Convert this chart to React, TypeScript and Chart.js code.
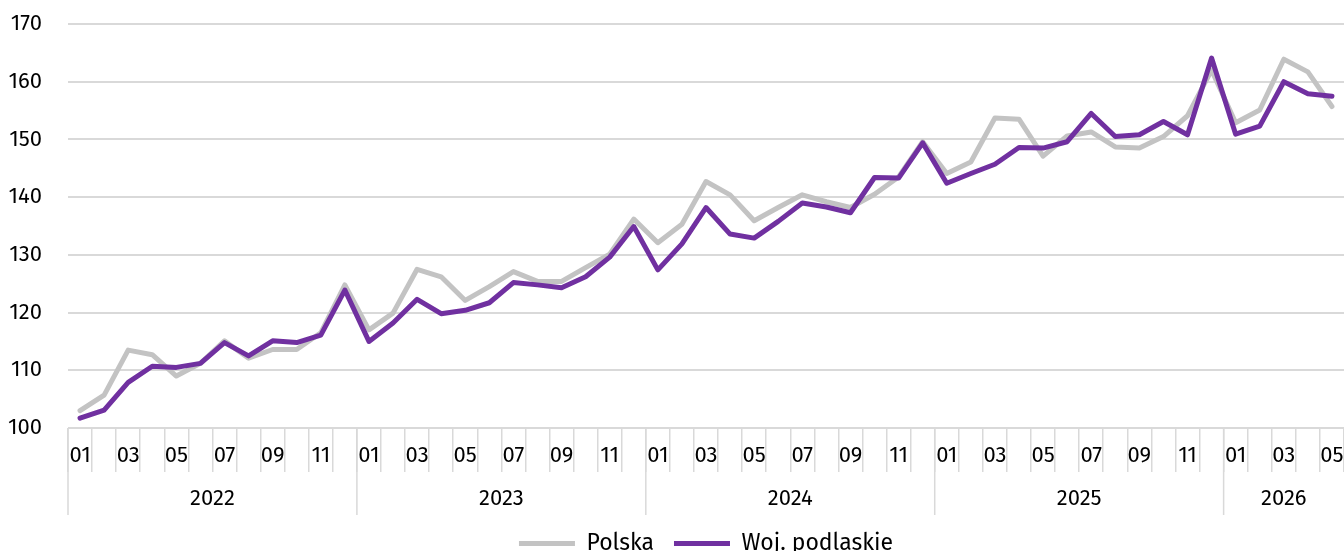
import React, { useEffect, useRef } from "react";
import { Chart, registerables } from "chart.js";

Chart.register(...registerables);

const months: string[] = [
  "01","02","03","04","05","06","07","08","09","10","11","12",
  "01","02","03","04","05","06","07","08","09","10","11","12",
  "01","02","03","04","05","06","07","08","09","10","11","12",
  "01","02","03","04","05","06","07","08","09","10","11","12",
  "01","02","03","04","05",
];
const years: string[] = ["2022", "2023", "2024", "2025", "2026"];

const polska: number[] = [
  103.0, 105.7, 113.5, 112.7, 109.0, 111.2, 115.1, 112.1, 113.6, 113.6, 116.5, 124.8,
  117.0, 119.9, 127.5, 126.2, 122.1, 124.5, 127.1, 125.4, 125.4, 127.8, 130.1, 136.2,
  132.1, 135.3, 142.7, 140.4, 135.9, 138.2, 140.4, 139.2, 138.2, 140.5, 143.5, 149.6,
  144.1, 146.1, 153.7, 153.5, 147.1, 150.6, 151.3, 148.7, 148.5, 150.5, 154.1, 162.0,
  152.9, 155.1, 163.9, 161.7, 155.7,
];
const podlaskie: number[] = [
  101.7, 103.1, 107.9, 110.7, 110.5, 111.2, 114.8, 112.5, 115.1, 114.8, 116.1, 123.9,
  115.0, 118.2, 122.3, 119.8, 120.4, 121.7, 125.2, 124.8, 124.3, 126.2, 129.6, 134.9,
  127.4, 131.9, 138.2, 133.6, 132.9, 135.8, 139.0, 138.3, 137.3, 143.4, 143.3, 149.4,
  142.4, 144.1, 145.7, 148.6, 148.5, 149.6, 154.5, 150.5, 150.8, 153.1, 150.8, 164.1,
  150.9, 152.3, 160.0, 157.9, 157.5,
];

const FONT = "'Fira Sans', Lato, 'Noto Sans', sans-serif";
const GRID = "#d9d9d9";

const yearPlugin = {
  id: "yearRow",
  afterDraw(chart: any) {
    const xs = chart.scales.x;
    const ctx = chart.ctx;
    const n = months.length;
    const step = (xs.getPixelForValue(n - 1) - xs.getPixelForValue(0)) / (n - 1);
    const starts: number[] = [];
    months.forEach((m, i) => { if (m === "01") starts.push(i); });
    ctx.save();
    ctx.strokeStyle = GRID;
    ctx.lineWidth = 1.5;
    const top = xs.top;
    starts.forEach((s, k) => {
      const left = xs.getPixelForValue(s) - step / 2;
      const endIdx = k + 1 < starts.length ? starts[k + 1] - 1 : n - 1;
      const right = xs.getPixelForValue(endIdx) + step / 2;
      ctx.beginPath();
      ctx.moveTo(left, top);
      ctx.lineTo(left, top + 87);
      ctx.stroke();
      ctx.fillStyle = "#000";
      ctx.font = `22px ${FONT}`;
      ctx.textAlign = "center";
      ctx.textBaseline = "middle";
      ctx.fillText(years[k], (left + right) / 2, top + 71);
    });
    ctx.restore();
  },
};

export default function App() {
  const ref = useRef<HTMLCanvasElement | null>(null);
  useEffect(() => {
    document.body.style.margin = "0";
    document.body.style.overflow = "hidden";
    if (!ref.current) return;
    const chart = new Chart(ref.current, {
      type: "line",
      data: {
        labels: months,
        datasets: [
          {
            label: "Polska",
            data: polska,
            borderColor: "#c3c3c3",
            backgroundColor: "#c3c3c3",
            borderWidth: 5,
            pointRadius: 0,
            tension: 0,
            borderCapStyle: "round",
            borderJoinStyle: "round",
            order: 1,
          },
          {
            label: "Woj. podlaskie",
            data: podlaskie,
            borderColor: "#7030a0",
            backgroundColor: "#7030a0",
            borderWidth: 5,
            pointRadius: 0,
            tension: 0,
            borderCapStyle: "round",
            borderJoinStyle: "round",
            order: 0,
          },
        ],
      },
      options: {
        animation: false,
        responsive: false,
        maintainAspectRatio: false,
        layout: { padding: { top: 24, left: 0, right: 0, bottom: 0 } },
        plugins: {
          tooltip: { enabled: false },
          legend: {
            position: "bottom",
            fullSize: false,
            labels: {
              usePointStyle: true,
              pointStyle: "line",
              pointStyleWidth: 56,
              boxHeight: 23,
              padding: 20,
              color: "#000",
              font: { family: FONT, size: 23 },
              sort: (a: any, b: any) => a.datasetIndex - b.datasetIndex,
            },
          },
        },
        scales: {
          x: {
            offset: true,
            afterFit: (s: any) => { s.height = 84; },
            grid: {
              offset: true,
              drawOnChartArea: false,
              drawTicks: true,
              tickLength: 44,
              color: GRID,
              lineWidth: 1.5,
            },
            border: { display: false },
            ticks: {
              autoSkip: false,
              maxRotation: 0,
              padding: -29,
              color: "#000",
              font: { family: FONT, size: 22 },
              callback: (_v: any, i: number) => (i % 2 === 0 ? months[i] : ""),
            },
          },
          y: {
            min: 100,
            max: 170,
            afterFit: (s: any) => { s.width = 68; },
            ticks: {
              stepSize: 10,
              padding: 2,
              color: "#000",
              font: { family: FONT, size: 22 },
            },
            grid: {
              color: GRID,
              lineWidth: 2,
              drawTicks: true,
              tickLength: 24,
              tickColor: "rgba(0,0,0,0)",
            },
            border: { display: false },
          },
        },
      },
      plugins: [yearPlugin],
    } as any);
    return () => chart.destroy();
  }, []);
  return (
    <div style={{ width: 1344, height: 551, overflow: "hidden" }}>
      <canvas ref={ref} width={1344} height={565} style={{ display: "block" }} />
    </div>
  );
}
